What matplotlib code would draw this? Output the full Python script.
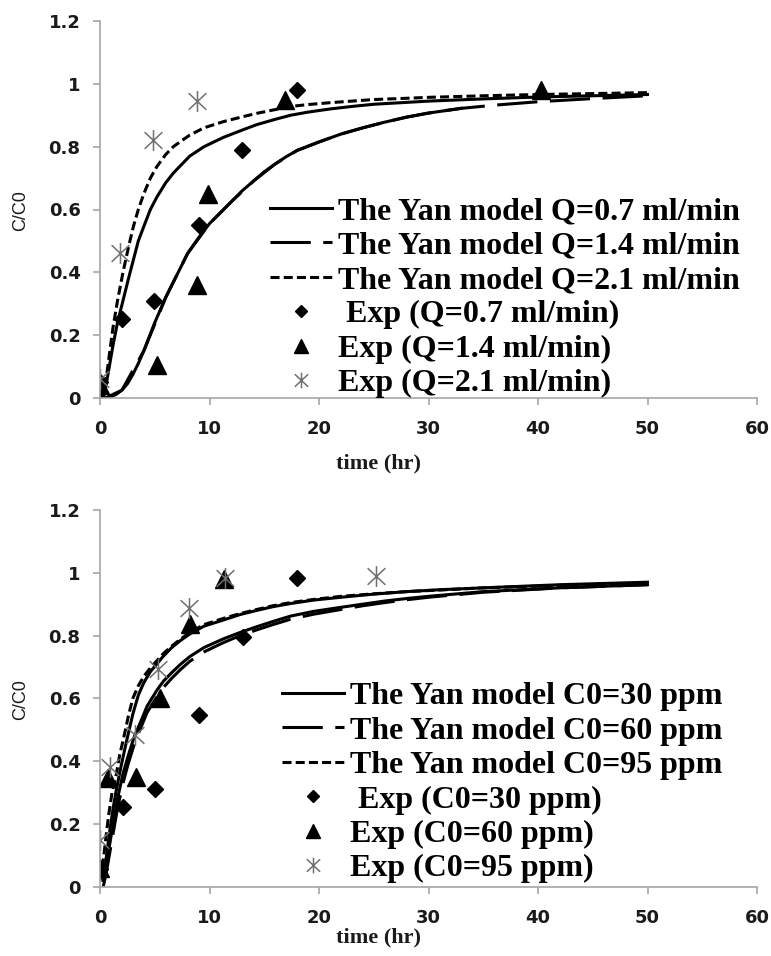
import numpy as np
import matplotlib.pyplot as plt
from matplotlib.path import Path

plt.rcParams['lines.scale_dashes'] = False

# ---- top panel: flow rate ----
# Yan model curves
top_t_q07 = [0.5, 1, 1.5, 2, 2.5, 3, 3.5, 4, 4.5, 5, 5.5, 6, 6.5, 7, 7.5, 8, 9, 10, 11, 12, 13, 14,
             15, 16, 17, 18, 20, 22, 24, 26, 28, 30, 33]
top_v_q07 = [0, 0.004, 0.012, 0.025, 0.045, 0.075, 0.11, 0.15, 0.195, 0.24, 0.28, 0.32, 0.355, 0.39,
             0.425, 0.46, 0.51, 0.555, 0.59, 0.625, 0.66, 0.69, 0.72, 0.745, 0.768, 0.788, 0.815,
             0.84, 0.86, 0.878, 0.894, 0.907, 0.922]
top_t_q14 = [0.5, 2, 4, 6, 8, 10, 12, 14, 16, 18, 20, 22, 24, 26, 28, 30, 33, 36, 40, 45, 50]
top_v_q14 = [0, 0.025, 0.15, 0.32, 0.46, 0.555, 0.625, 0.69, 0.745, 0.788, 0.815, 0.84, 0.86, 0.878,
             0.894, 0.907, 0.922, 0.932, 0.943, 0.953, 0.962]
top_t_q21 = [0, 0.3, 0.6, 0.9, 1.2, 1.6, 2.1, 2.6, 3.05, 3.5, 4, 4.6, 5.2, 6, 6.7, 7.5, 8.2, 9.5,
             11.3, 13, 14.3, 16, 17.4, 19, 21, 23, 25, 28, 30, 35, 40, 45, 50]
top_v_q21 = [0, 0.015, 0.07, 0.15, 0.227, 0.31, 0.40, 0.48, 0.546, 0.6, 0.65, 0.70, 0.737, 0.775,
             0.80, 0.82, 0.837, 0.86, 0.88, 0.895, 0.906, 0.918, 0.928, 0.934, 0.94, 0.945, 0.95,
             0.954, 0.957, 0.962, 0.966, 0.969, 0.972]
# extra unlabelled model curve (middle one)
top_t_mid = [0.3, 0.6, 0.9, 1.2, 1.6, 2.1, 2.6, 3.05, 3.5, 4, 4.6, 5.2, 6, 6.7, 7.5, 8.2, 9.5, 11.3,
             13, 14.3, 16, 17.4, 19, 21, 23, 25, 28, 30, 35, 40, 45, 50]
top_v_mid = [0, 0.05, 0.11, 0.17, 0.24, 0.31, 0.38, 0.44, 0.50, 0.546, 0.6, 0.64, 0.685, 0.716, 0.745,
             0.77, 0.80, 0.83, 0.853, 0.87, 0.887, 0.90, 0.91, 0.92, 0.928, 0.935, 0.941, 0.945,
             0.952, 0.958, 0.962, 0.966]
# experimental points
top_exp_t_q07 = [0, 2, 4.9, 9, 13, 18]
top_exp_v_q07 = [0.05, 0.25, 0.31, 0.55, 0.79, 0.98]
top_exp_t_q14 = [0, 5.2, 8.9, 9.9, 16.9, 40.3]
top_exp_v_q14 = [0.04, 0.105, 0.36, 0.65, 0.95, 0.98]
top_exp_t_q21 = [0, 1.8, 4.8, 8.9]
top_exp_v_q21 = [0.06, 0.46, 0.82, 0.945]

# ---- bottom panel: inlet concentration ----
bot_t_c30 = [0.3, 0.6, 0.9, 1.2, 1.5, 1.9, 2.4, 3.0, 3.5, 4.0, 4.6, 5.2, 5.8, 6.5, 7.3, 8.2, 9.5,
             11.3, 12.8, 14.3, 15.8, 17.4, 19.5, 22, 25, 28, 31, 35, 42, 50]
bot_v_c30 = [0.02, 0.1, 0.18, 0.25, 0.31, 0.38, 0.46, 0.55, 0.61, 0.65, 0.685, 0.71, 0.735, 0.76,
             0.783, 0.805, 0.83, 0.85, 0.867, 0.88, 0.892, 0.902, 0.913, 0.922, 0.932, 0.94, 0.946,
             0.952, 0.962, 0.97]
bot_t_c60 = [0.3, 0.6, 0.9, 1.2, 1.6, 2.1, 2.6, 3.1, 3.65, 4.3, 5.2, 5.8, 6.5, 7.3, 8.2, 9.5, 11.3,
             12.8, 14.3, 15.8, 17.4, 19.5, 22, 24, 26, 28, 30, 35, 42, 50]
bot_v_c60 = [0.0, 0.05, 0.11, 0.17, 0.25, 0.33, 0.395, 0.45, 0.5, 0.555, 0.605, 0.635, 0.662, 0.69,
             0.718, 0.748, 0.778, 0.8, 0.818, 0.835, 0.852, 0.868, 0.883, 0.895, 0.905, 0.914,
             0.922, 0.938, 0.952, 0.962]
bot_t_c95 = [0, 0.3, 0.55, 0.8, 1.1, 1.5, 1.8, 2.2, 2.6, 3.0, 3.5, 4.0, 4.6, 5.2, 5.8, 6.5, 7.3, 8.2,
             9.5, 11.3, 12.8, 14.3, 15.8, 17.4, 19.5, 22, 25, 28, 31, 35, 42, 50]
bot_v_c95 = [0.02, 0.085, 0.16, 0.23, 0.3, 0.36, 0.42, 0.48, 0.545, 0.6, 0.64, 0.67, 0.697, 0.72,
             0.743, 0.765, 0.787, 0.81, 0.835, 0.855, 0.87, 0.883, 0.895, 0.905, 0.915, 0.925,
             0.933, 0.94, 0.945, 0.952, 0.96, 0.967]
bot_t_mid = [0.3, 0.6, 0.9, 1.2, 1.6, 2.1, 2.6, 3.1, 3.65, 4.3, 5.2, 5.8, 6.5, 7.3, 8.2, 9.5, 11.3,
             12.8, 14.3, 15.8, 17.4, 19.5, 22, 24, 26, 28, 30, 35, 42, 50]
bot_v_mid = [0.02, 0.08, 0.138, 0.2, 0.28, 0.36, 0.42, 0.475, 0.52, 0.575, 0.626, 0.655, 0.68, 0.707,
             0.733, 0.762, 0.79, 0.81, 0.828, 0.845, 0.862, 0.877, 0.89, 0.9, 0.91, 0.918, 0.925,
             0.94, 0.952, 0.962]
bot_exp_t_c30 = [0, 2.07, 5, 9, 13.1, 18]
bot_exp_v_c30 = [0.055, 0.253, 0.31, 0.547, 0.794, 0.982]
bot_exp_t_c60 = [0, 0.76, 3.3, 5.5, 8.2, 11.3]
bot_exp_v_c60 = [0.06, 0.345, 0.35, 0.6, 0.837, 0.979]
bot_exp_t_c95 = [0, 0.9, 3.2, 5.3, 8.1, 11.4, 25.2]
bot_exp_v_c95 = [0.149, 0.382, 0.483, 0.693, 0.887, 0.982, 0.99]

top_labels = ['The Yan model Q=0.7 ml/min', 'The Yan model Q=1.4 ml/min', 'The Yan model Q=2.1 ml/min',
              ' Exp (Q=0.7 ml/min)', 'Exp (Q=1.4 ml/min)', 'Exp (Q=2.1 ml/min)']
bot_labels = ['The Yan model C0=30 ppm', 'The Yan model C0=60 ppm', 'The Yan model C0=95 ppm',
              ' Exp (C0=30 ppm)', 'Exp (C0=60 ppm)', 'Exp (C0=95 ppm)']

x_ticks = [0, 10, 20, 30, 40, 50, 60]
y_ticks = [0, 0.2, 0.4, 0.6, 0.8, 1.0, 1.2]
y_ticklabels = ['0', '0.2', '0.4', '0.6', '0.8', '1', '1.2']

# asterisk marker like Excel's (vertical bar + x)
star = Path([(0, -1), (0, 1), (-0.85, -0.8), (0.85, 0.8), (-0.85, 0.8), (0.85, -0.8)],
            [Path.MOVETO, Path.LINETO, Path.MOVETO, Path.LINETO, Path.MOVETO, Path.LINETO])

LW = 2.2
LONG = (0, (29, 9))
SHORT = (0, (6.5, 3))
AXCOL = '#a6a6a6'


def draw_panel(ax, curves, extra, pts, labels, leg_anchor):
    (t1, v1), (t2, v2), (t3, v3) = curves
    ax.plot(extra[0], extra[1], color='black', lw=LW, label='_nolegend_')
    h1, = ax.plot(t1, v1, color='black', lw=LW, ls='-')
    h2, = ax.plot(t2, v2, color='black', lw=LW, ls=LONG)
    h3, = ax.plot(t3, v3, color='black', lw=LW, ls=SHORT)
    (pt1, pv1), (pt2, pv2), (pt3, pv3) = pts
    h4, = ax.plot(pt1, pv1, ls='none', marker='D', ms=8.5, color='black')
    h5, = ax.plot(pt2, pv2, ls='none', marker='^', ms=12.5, color='black')
    h6, = ax.plot(pt3, pv3, ls='none', marker=star, ms=15, mec='#707070', mew=1.1, mfc='none')

    ax.set_xlim(0, 60)
    ax.set_ylim(0, 1.2)
    ax.set_xticks(x_ticks)
    ax.set_yticks(y_ticks)
    ax.set_yticklabels(y_ticklabels)
    for s in ['top', 'right']:
        ax.spines[s].set_visible(False)
    for s in ['left', 'bottom']:
        ax.spines[s].set_color(AXCOL)
        ax.spines[s].set_linewidth(1.2)
    ax.tick_params(axis='both', direction='out', length=5, width=1.2, color=AXCOL,
                   labelsize=13, labelcolor='#1a1a1a')
    ax.tick_params(axis='x', pad=11)
    ax.tick_params(axis='y', pad=9)
    for lab in ax.get_xticklabels() + ax.get_yticklabels():
        lab.set_fontweight('bold')
        lab.set_family('DejaVu Sans')

    ax.legend([h1, h2, h3, h4, h5, h6], labels, loc='upper left', bbox_to_anchor=leg_anchor,
              frameon=False, prop={'family': 'Liberation Serif', 'weight': 'bold', 'size': 23},
              handlelength=1.94, handletextpad=0.2, labelspacing=0.16, borderpad=0,
              borderaxespad=0, numpoints=1, markerscale=0.75)


fig = plt.figure(figsize=(7.71, 9.56), dpi=100)
ax1 = fig.add_axes([100 / 771, 1 - 398 / 956, 657 / 771, 377 / 956])
ax2 = fig.add_axes([100 / 771, 1 - 886.7 / 956, 657 / 771, 376.7 / 956])

draw_panel(ax1,
           [(top_t_q07, top_v_q07), (top_t_q14, top_v_q14), (top_t_q21, top_v_q21)],
           (top_t_mid, top_v_mid),
           [(top_exp_t_q07, top_exp_v_q07), (top_exp_t_q14, top_exp_v_q14), (top_exp_t_q21, top_exp_v_q21)],
           top_labels, (0.2587, 0.534))
draw_panel(ax2,
           [(bot_t_c30, bot_v_c30), (bot_t_c60, bot_v_c60), (bot_t_c95, bot_v_c95)],
           (bot_t_mid, bot_v_mid),
           [(bot_exp_t_c30, bot_exp_v_c30), (bot_exp_t_c60, bot_exp_v_c60), (bot_exp_t_c95, bot_exp_v_c95)],
           bot_labels, (0.277, 0.544))

for ycen_lab, ycen_time in [(211, 463), (700, 937)]:
    fig.text(21 / 771, 1 - ycen_lab / 956, 'C/C0', rotation=90, ha='center', va='center',
             family='Liberation Sans', fontsize=13, color='#1a1a1a')
    fig.text(378 / 771, 1 - ycen_time / 956, 'time (hr)', ha='center', va='center',
             family='Liberation Serif', fontweight='bold', fontsize=16, color='#1a1a1a')

fig.savefig('out.png', dpi=100)
